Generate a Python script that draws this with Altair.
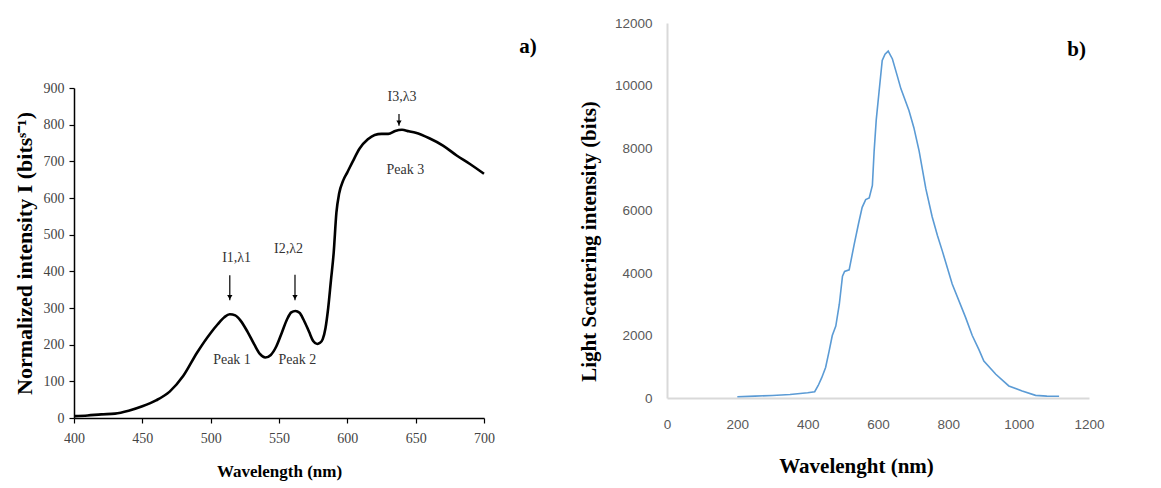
import altair as alt
import pandas as pd

# ---------------- Panel a data ----------------
wl_a = [400, 410, 420, 430, 440, 450, 460, 470, 480, 490, 500, 505, 510, 514, 518, 522,
        527, 532, 536, 540, 544, 548, 552, 556, 559, 562, 565, 568, 572, 575, 578, 580,
        582, 584, 586, 588, 590, 592, 594, 597, 600, 604, 609, 615, 620, 625, 630, 635,
        640, 645, 650, 660, 670, 680, 690, 700]
int_a = [5, 7, 10, 12, 20, 32, 48, 72, 115, 178, 232, 255, 275, 283, 280, 265,
         235, 200, 175, 165, 172, 195, 232, 270, 288, 292, 287, 268, 235, 210, 202, 205,
         215, 245, 300, 375, 450, 560, 612, 648, 670, 700, 735, 760, 772, 775, 775, 783,
         786, 782, 778, 763, 743, 716, 692, 666]

ann_text = ["I1,λ1", "I2,λ2", "I3,λ3", "Peak 1", "Peak 2", "Peak 3"]
ann_x = [519, 557, 640, 515.6, 563.4, 642.4]
ann_y = [437, 460, 875, 157, 157, 677]

arrow_x = [514, 561.7, 637.8]
arrow_top = [389, 391, 829]
arrow_bottom = [321, 321, 797]

# ---------------- Panel b data ----------------
wl_b = [200, 250, 300, 350, 400, 420, 430, 440, 451, 461, 470, 480, 490, 499, 505, 518,
        532, 545, 555, 565, 575, 584, 589, 595, 603, 612, 620, 629, 641, 655, 665, 688,
        702, 717, 736, 754, 769, 783, 811, 849, 868, 887, 901, 935, 972, 1010, 1048, 1080, 1115]
int_b = [40, 60, 80, 110, 170, 200, 400, 650, 975, 1500, 2000, 2300, 3000, 3900, 4050, 4100,
         4900, 5600, 6100, 6350, 6400, 6800, 7900, 8900, 9800, 10800, 11000, 11100, 10850, 10300, 9900, 9200,
         8650, 7900, 6700, 5800, 5200, 4700, 3650, 2580, 2000, 1550, 1185, 760, 385, 225, 85, 60, 55]

x_ticks_a = [400, 450, 500, 550, 600, 650, 700]
y_ticks_a = [0, 100, 200, 300, 400, 500, 600, 700, 800, 900]
x_ticks_b = [0, 200, 400, 600, 800, 1000, 1200]
y_ticks_b = [0, 2000, 4000, 6000, 8000, 10000, 12000]

SERIF = "Liberation Serif"

df_a = pd.DataFrame({"x": wl_a, "y": int_a})
df_ann = pd.DataFrame({"x": ann_x, "y": ann_y, "t": ann_text})
df_arr = pd.DataFrame({"x": arrow_x, "y": arrow_top, "y2": arrow_bottom})
df_head = pd.DataFrame({"x": arrow_x, "y": arrow_bottom})

xa = alt.X("x:Q", scale=alt.Scale(domain=[400, 700], nice=False, zero=False),
           axis=alt.Axis(title="Wavelength (nm)", values=x_ticks_a, grid=False, format="d",
                         labelFlush=False,
                         domainColor="black", domainWidth=1.5, tickColor="black",
                         tickSize=5, tickWidth=1.2, labelFont=SERIF, labelFontSize=14,
                         labelColor="#444444", labelPadding=8, titleFont=SERIF,
                         titleFontSize=17, titleFontWeight="bold", titleColor="black",
                         titlePadding=18))
ya = alt.Y("y:Q", scale=alt.Scale(domain=[0, 900], nice=False),
           axis=alt.Axis(title="Normalized intensity I (bitsˢ⁻¹)", values=y_ticks_a, grid=False,
                         format="d",
                         domainColor="black", domainWidth=1.5, tickColor="black",
                         tickSize=5, tickWidth=1.2, labelFont=SERIF, labelFontSize=14,
                         labelColor="#444444", labelPadding=5, titleFont=SERIF,
                         titleFontSize=22, titleFontWeight="bold", titleColor="black",
                         titlePadding=7))

line_a = alt.Chart(df_a).mark_line(color="black", strokeWidth=2.6, interpolate="monotone").encode(x=xa, y=ya)
arr_a = alt.Chart(df_arr).mark_rule(color="black", strokeWidth=1.2).encode(x=xa, y=ya, y2="y2:Q")
head_a = alt.Chart(df_head).mark_point(shape="triangle-down", filled=True, color="black",
                                       size=28, opacity=1, yOffset=-3).encode(x=xa, y=ya)
txt_a = alt.Chart(df_ann).mark_text(font=SERIF, fontSize=14, color="#333333").encode(
    x=xa, y=ya, text="t:N")

panel_a = alt.layer(line_a, arr_a, head_a, txt_a).properties(width=410, height=330)

spacer = alt.Chart(pd.DataFrame({"t": ["a)"]})).mark_text(
    font=SERIF, fontSize=21, fontWeight="bold", color="black", align="center", baseline="middle"
).encode(text="t:N", x=alt.value(454), y=alt.value(24)).properties(width=470, height=58)

left = alt.vconcat(spacer, panel_a, spacing=0)

# ---------------- Panel b ----------------
df_b = pd.DataFrame({"x": wl_b, "y": int_b})
df_lab = pd.DataFrame({"x": [1165], "y": [11150], "t": ["b)"]})

xb = alt.X("x:Q", scale=alt.Scale(domain=[0, 1200], nice=False),
           axis=alt.Axis(title="Wavelenght (nm)", values=x_ticks_b, grid=False, ticks=False,
                         format="d", labelFlush=False,
                         domainColor="#d9d9d9", domainWidth=2, labelFont="Liberation Sans",
                         labelFontSize=13.5, labelColor="#595959", labelPadding=19,
                         titleFont=SERIF, titleFontSize=21, titleFontWeight="bold",
                         titleColor="black", titleX=189, titleY=68, titleBaseline="middle",
                         titleAlign="center"))
yb = alt.Y("y:Q", scale=alt.Scale(domain=[0, 12000], nice=False),
           axis=alt.Axis(title="Light Scattering intensity (bits)", values=y_ticks_b, grid=False,
                         ticks=False, format="d", domainColor="#d9d9d9", domainWidth=2,
                         labelFont="Liberation Sans", labelFontSize=13.5, labelColor="#595959",
                         labelPadding=15, titleFont=SERIF, titleFontSize=21,
                         titleFontWeight="bold", titleColor="black", titleX=-78, titleY=218,
                         titleBaseline="middle", titleAlign="center", titleAngle=270))

line_b = alt.Chart(df_b).mark_line(color="#5b9bd5", strokeWidth=1.6).encode(x=xb, y=yb)
lab_b = alt.Chart(df_lab).mark_text(font=SERIF, fontSize=21, fontWeight="bold",
                                    color="black").encode(x=xb, y=yb, text="t:N")
panel_b = alt.layer(line_b, lab_b).properties(width=422, height=375)

chart = alt.hconcat(left, panel_b, spacing=34).properties(
    padding={"left": 5, "top": 8, "right": 5, "bottom": 5}
).configure_view(stroke=None)

chart.save("out.html", embed_options={"renderer": "svg", "actions": False})
